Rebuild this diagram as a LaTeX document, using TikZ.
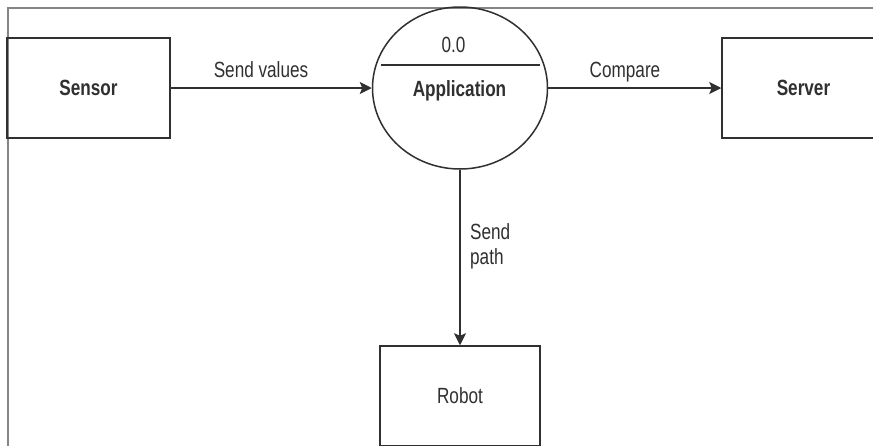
\documentclass[tikz,border=0pt]{standalone}
\usepackage{fontspec}
\setmainfont[FakeStretch=0.78]{Liberation Sans}
\usetikzlibrary{arrows.meta,shapes.geometric}
\definecolor{ink}{HTML}{303030}
\definecolor{framegray}{HTML}{858585}
\begin{document}
\begin{tikzpicture}[x=1pt,y=-1pt,
  font=\fontsize{22}{26}\selectfont,
  box/.style={draw=ink, line width=1.5pt, inner sep=0pt, text=ink},
  flow/.style={draw=ink, line width=1.5pt, -{Stealth[length=12pt,width=12pt,inset=2.5pt]}},
  lbl/.style={text=ink, anchor=base, inner sep=0pt},
]
\clip (0,0) rectangle (873,445);
\fill[white] (0,0) rectangle (873,445);
% frame
\draw[framegray, line width=2pt] (7.5,446) -- (7.5,7.5) -- (874,7.5);
% nodes
\node[box, minimum width=163pt, minimum height=100pt] (sensor) at (88.5,88) {\bfseries Sensor};
\node[box, minimum width=163pt, minimum height=100pt] (server) at (803.5,88) {\bfseries Server};
\node[box, minimum width=160pt, minimum height=100pt] (robot) at (460,396) {Robot};
\node[draw=ink, line width=1.5pt, ellipse, inner sep=0pt, minimum width=175pt, minimum height=162pt] (app) at (460,88) {};
\node[lbl] (appname) at (459.5,96) {\bfseries Application};
\node[lbl] (appnum) at (453.5,52) {0.0};
\draw[ink, line width=1.3pt] (381,65) -- (540,65);
% connectors
\draw[flow] (sensor) -- (app);
\draw[flow] (app) -- (server);
\draw[flow] (app) -- (robot);
% labels
\node[lbl] (lsend) at (261,77) {Send values};
\node[lbl] (lcmp) at (625,77) {Compare};
\node[lbl, anchor=base west] (lpath1) at (470,239) {Send};
\node[lbl, anchor=base west] (lpath2) at (470,264) {path};
\end{tikzpicture}
\end{document}
